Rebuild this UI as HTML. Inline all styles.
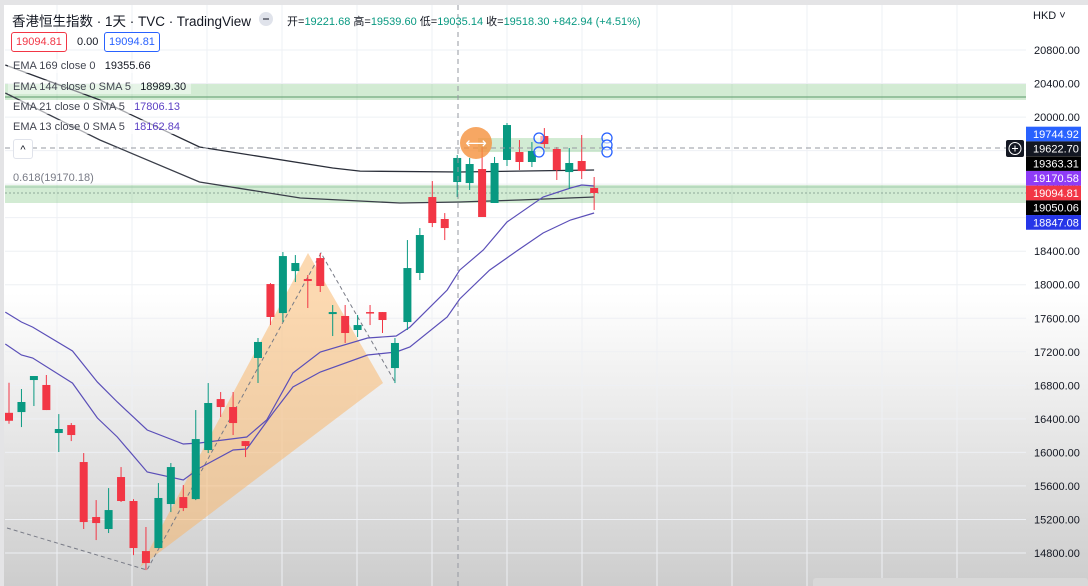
<!DOCTYPE html>
<html><head><meta charset="utf-8">
<style>
html,body{margin:0;padding:0;width:1088px;height:586px;overflow:hidden;background:#fff;font-family:"Liberation Sans","Noto Sans CJK SC",sans-serif;}
svg{position:absolute;left:0;top:0}
.hdr{position:absolute;white-space:nowrap;color:#131722}
</style></head><body>
<svg id="chart" width="1088" height="586">
<defs>
<linearGradient id="bg" x1="0" y1="0" x2="0" y2="1">
<stop offset="0" stop-color="#ffffff"/><stop offset="0.5" stop-color="#ffffff"/><stop offset="1" stop-color="#cdcdcd"/>
</linearGradient>
</defs>
<rect x="0" y="0" width="1088" height="586" fill="url(#bg)"/>
<rect x="0" y="0" width="1088" height="5" fill="#e4e4e6"/>
<rect x="0" y="0" width="4" height="586" fill="#e4e4e6"/>
<g id="grid"></g>
<g id="bands"></g>
<g id="pattern"></g>
<g id="lines"></g>
<g id="candles"></g>
<g id="overlay"></g>
<g id="axis"></g>
</svg>

<div class="hdr" style="left:12px;top:10px;font-size:13.5px;">香港恒生指数 · 1天 · TVC · TradingView</div>
<div class="hdr" style="left:259px;top:12px;width:14px;height:14px;border-radius:7px;background:#e0e3eb;"><div style="position:absolute;left:4px;top:6px;width:6px;height:2px;background:#787b86"></div></div>
<div class="hdr" style="left:287px;top:13px;font-size:11px;">开=<span style="color:#089981">19221.68</span> 高=<span style="color:#089981">19539.60</span> 低=<span style="color:#089981">19035.14</span> 收=<span style="color:#089981">19518.30</span> <span style="color:#089981">+842.94 (+4.51%)</span></div>
<div class="hdr" style="left:11px;top:32px;width:54px;height:18px;line-height:18px;text-align:center;border:1px solid #f23645;border-radius:3px;color:#f23645;font-size:11px;background:#fff">19094.81</div>
<div class="hdr" style="left:77px;top:33px;line-height:18px;font-size:11px;color:#131722">0.00</div>
<div class="hdr" style="left:104px;top:32px;width:54px;height:18px;line-height:18px;text-align:center;border:1px solid #2962ff;border-radius:3px;color:#2962ff;font-size:11px;background:#fff">19094.81</div>
<div class="hdr" style="left:8px;top:59px;padding:1px 5px;font-size:11px;color:#434651;background:rgba(255,255,255,0.6)">EMA 169 close 0 &nbsp; <span style="color:#131722">19355.66</span></div>
<div class="hdr" style="left:8px;top:80px;padding:1px 5px;font-size:11px;color:#434651;background:rgba(255,255,255,0.45)">EMA 144 close 0 SMA 5 &nbsp; <span style="color:#131722">18989.30</span></div>
<div class="hdr" style="left:8px;top:100px;padding:1px 5px;font-size:11px;color:#434651;background:rgba(255,255,255,0.6)">EMA 21 close 0 SMA 5 &nbsp; <span style="color:#5b3fc4">17806.13</span></div>
<div class="hdr" style="left:8px;top:120px;padding:1px 5px;font-size:11px;color:#434651;background:rgba(255,255,255,0.6)">EMA 13 close 0 SMA 5 &nbsp; <span style="color:#5b3fc4">18162.84</span></div>
<div class="hdr" style="left:13px;top:139px;width:18px;height:18px;border:1px solid #e0e3eb;border-radius:3px;background:#fff;font-size:11px;text-align:center;line-height:20px;color:#131722">^</div>
<div class="hdr" style="left:13px;top:172px;font-size:11px;color:#787b86">0.618(19170.18)</div>
<div class="hdr" style="left:1033px;top:10px;font-size:11px;color:#131722">HKD ˅</div>

<script>
const opens=[16472,16481,16863,16804,16231,16326,15885,15229,15086,15706,15420,14823,14859,15384,15467,15443,16028,16636,16541,16135,17126,18008,17662,18163,18068,18318,17650,17627,17460,17674,17674,17006,17555,18140,19046,18784,19225,19213,19380,18975,19488,19583,19464,19774,19619,19344,19476,19154];
const highs=[16830,16756,16911,16923,16457,16350,15992,15431,15574,15825,15443,15110,15634,15873,15610,16505,16827,16720,16720,16135,17364,18020,18390,18354,18116,18378,17758,17758,17639,17758,17674,17364,18533,18676,19237,18855,19547,19512,19643,19524,19929,19726,19702,19869,19643,19631,19786,19285];
const lows=[16341,16302,16553,16505,16004,16135,15086,14954,15038,15408,14775,14596,14859,15288,15300,15431,15992,16422,16207,15944,16827,17519,17555,18032,17722,17913,17388,17305,17376,17519,17424,16827,17460,18056,18688,18533,19046,19130,18808,18975,19416,19368,19404,19631,19249,19142,19261,18891];
const closes=[16377,16601,16911,16505,16279,16207,15169,15157,15312,15420,14859,14680,15456,15825,15336,16159,16589,16541,16350,16076,17317,17615,18342,18259,18044,17985,17674,17424,17519,17662,17579,17305,18199,18593,18736,18676,19512,19440,18808,19452,19905,19464,19595,19678,19368,19452,19356,19094];
const ema13Idx=[-0.3,1.0,1.9,5.1,7.1,8.7,11.1,14.0,15.3,19.1,20.7,22.8,25.0,28.8,31.1,32.2,35.2,36.2,38.1,40.0,42.9,45.1,46.0,47.0];
const ema13Val=[17674,17555,17495,17209,16839,16601,16267,16100,16112,16183,16386,16947,17197,17364,17388,17495,17937,18175,18414,18748,19046,19154,19190,19178];
const ema21Idx=[-0.3,1.0,1.9,5.1,7.1,8.7,11.1,14.0,15.3,18.0,19.1,21.2,22.8,25.0,28.8,31.1,32.2,35.2,36.2,38.6,40.9,42.9,45.1,47.0];
const ema21Val=[17293,17162,17126,16827,16410,16183,15766,15670,15813,16028,16040,16470,16780,16959,17162,17197,17257,17615,17830,18175,18414,18617,18772,18855];
const ema169Idx=[-0.3,7.3,15.3,26.0,28.2,36.2,47.0];
const ema169Val=[20621,20204,19643,19392,19356,19345,19368];
const ema144Idx=[-0.3,7.3,15.3,23.4,31.4,36.2,41.0,47.0];
const ema144Val=[20287,19726,19225,19034,18975,18987,19011,19046];
const priceTicks=[20800,20400,20000,19600,19200,18800,18400,18000,17600,17200,16800,16400,16000,15600,15200,14800];
const tickLabels=["20800.00","20400.00","20000.00","19600.00","19200.00","18800.00","18400.00","18000.00","17600.00","17200.00","16800.00","16400.00","16000.00","15600.00","15200.00","14800.00"];
const markerPrices=[19744.92,19622.70,19363.31,19170.58,19094.81,19050.06,18847.08];
const markerLabels=["19744.92","19622.70","19363.31","19170.58","19094.81","19050.06","18847.08"];
const bandTop=[20394,19190,19750];
const bandBottom=[20204,18975,19583];

const NS="http://www.w3.org/2000/svg";
function y(p){return 50+(20800-p)*0.08383;}
function x(i){return 9+12.45*i;}
function mk(tag,attrs,parent){const e=document.createElementNS(NS,tag);for(const k in attrs)e.setAttribute(k,attrs[k]);document.getElementById(parent).appendChild(e);return e;}

priceTicks.forEach((p,k)=>{
  const l=mk('line',{x1:5,x2:1026,y1:y(p),y2:y(p),stroke:'#eef0f4','stroke-width':1},'grid');
  
  
});
[57,132,207,282,357,432,507,582,657,732,807,882,957].forEach(gx=>{
  const l=mk('line',{x1:gx,x2:gx,y1:5,y2:586,stroke:'#eef0f4','stroke-width':1},'grid');
  
  
});

const bandX=[[5,1026],[5,1026],[478,605]];
bandTop.forEach((t,k)=>{
  const r=mk('rect',{x:bandX[k][0],y:y(t),width:bandX[k][1]-bandX[k][0],height:y(bandBottom[k])-y(t),fill:'rgba(76,175,80,0.25)'},'bands');
  
  
});
let l1=mk('line',{x1:5,x2:1026,y1:97,y2:97,stroke:'#5a9a6a','stroke-width':1},'bands');


let l2=mk('line',{x1:5,x2:1026,y1:y(19094.81),y2:y(19094.81),stroke:'#8fa898','stroke-width':1,'stroke-dasharray':'2 2'},'bands');


let l3=mk('line',{x1:5,x2:1026,y1:187,y2:187,stroke:'#9cc8a8','stroke-width':1},'bands');



let tri=mk('polygon',{points:'140,567 308,253 383,383',fill:'rgba(250,180,100,0.5)'},'pattern');


let pl=mk('polyline',{points:'7,528 147,570 321,253 395,382',fill:'none',stroke:'#787b86','stroke-width':1,'stroke-dasharray':'4 3'},'pattern');



function drawLine(idx,val,color,name,w){
  const pts=idx.map((v,k)=>x(v).toFixed(1)+','+y(val[k]).toFixed(1)).join(' ');
  const p=mk('polyline',{points:pts,fill:'none',stroke:color,'stroke-width':w},'lines');
  
  
}
drawLine(ema169Idx,ema169Val,'#2a2e39','ema169-line',1.3);
drawLine(ema144Idx,ema144Val,'#3a3e49','ema144-line',1.3);
drawLine(ema13Idx,ema13Val,'#5b4fb8','ema13-line',1.2);
drawLine(ema21Idx,ema21Val,'#5b4fb8','ema21-line',1.2);

opens.forEach((o,i)=>{
  const c=closes[i],up=c>=o,col=up?'#089981':'#f23645';
  const g=mk('g',{},'candles');
  
  
  const cx=x(i);
  const w=document.createElementNS(NS,'line');
  w.setAttribute('x1',cx);w.setAttribute('x2',cx);w.setAttribute('y1',y(highs[i]));w.setAttribute('y2',y(lows[i]));w.setAttribute('stroke',col);w.setAttribute('stroke-width',1);
  
  
  g.appendChild(w);
  const top=y(Math.max(o,c)),bot=y(Math.min(o,c));
  const b=document.createElementNS(NS,'rect');
  b.setAttribute('x',cx-4);b.setAttribute('y',top);b.setAttribute('width',8);b.setAttribute('height',Math.max(1.5,bot-top));b.setAttribute('fill',col);
  
  
  g.appendChild(b);
});

let ch=mk('line',{x1:5,x2:1008,y1:148,y2:148,stroke:'#9598a1','stroke-width':1,'stroke-dasharray':'5 4'},'overlay');


let cv=mk('line',{x1:458,x2:458,y1:5,y2:586,stroke:'#9598a1','stroke-width':1,'stroke-dasharray':'5 4'},'overlay');


let oc=mk('circle',{cx:476,cy:143,r:16,fill:'rgba(245,145,60,0.8)'},'overlay');


let ar=mk('text',{x:476,y:148,'font-size':15,'text-anchor':'middle',fill:'#fff','font-family':'DejaVu Sans'},'overlay');
ar.textContent='⟷';


[[539,138],[539,152],[607,138],[607,145],[607,152]].forEach(h=>{
  const c=mk('circle',{cx:h[0],cy:h[1],r:5,fill:'rgba(255,255,255,0.6)',stroke:'#2962ff','stroke-width':1.3},'overlay');
  
  
});
let pb=mk('rect',{x:1006,y:140,width:18,height:17,fill:'#131722',rx:2},'overlay');


let pc=mk('circle',{cx:1015,cy:148.5,r:6,fill:'none',stroke:'#fff','stroke-width':1},'overlay');


let pt=mk('path',{d:'M1012 148.5h6M1015 145.5v6',stroke:'#fff','stroke-width':1},'overlay');



priceTicks.forEach((p,k)=>{
  const t=mk('text',{x:1034,y:y(p)+4,'font-size':11,fill:'#131722','font-family':'Liberation Sans'},'axis');
  t.textContent=tickLabels[k];
  
  
});
const markerColors=['#2962ff','#131722','#000000','#8e3cf7','#f23645','#000000','#2636e8'];
// resolve label collisions around current-price marker (index 4)
const gap=14.7, anchor=4;
const my=markerPrices.map(y);
for(let k=anchor-1;k>=0;k--) my[k]=Math.min(my[k],my[k+1]-gap);
for(let k=anchor+1;k<my.length;k++) my[k]=Math.max(my[k],my[k-1]+gap);
markerPrices.forEach((p,k)=>{
  const ty=my[k];
  const r=mk('rect',{x:1026,y:ty-7.3,width:55,height:14.7,fill:markerColors[k]},'axis');
  
  
  const t=mk('text',{x:1033,y:ty+4,'font-size':11,fill:'#fff','font-family':'Liberation Sans'},'axis');
  t.textContent=markerLabels[k];
  
  
});
let bb=mk('rect',{x:813,y:578,width:275,height:12,fill:'#d8d8d8',rx:3},'axis');


</script>
</body></html>
